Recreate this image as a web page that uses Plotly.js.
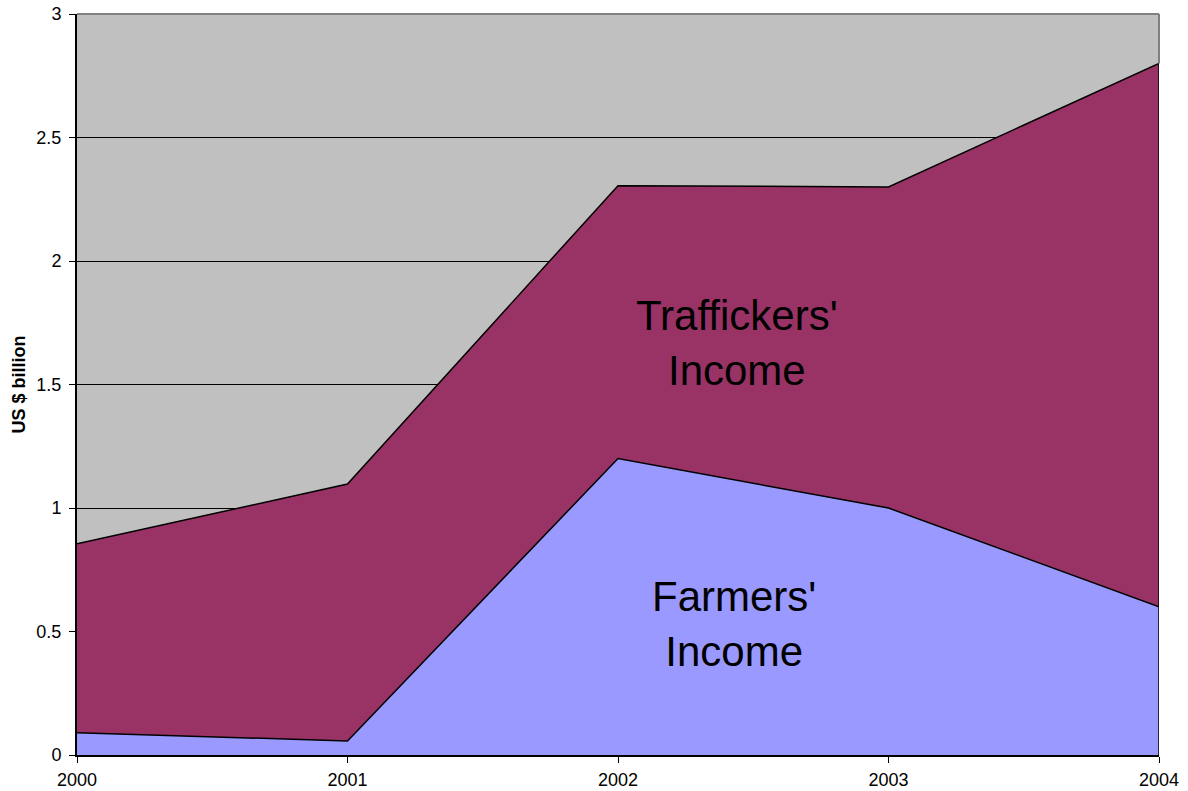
<!DOCTYPE html>
<html>
<head>
<meta charset="utf-8">
<script src="https://cdn.plot.ly/plotly-3.0.1.min.js"></script>
<style>html,body{margin:0;padding:0;background:#fff;}#chart{width:1188px;height:791px;}</style>
</head>
<body>
<div id="chart"></div>
<script>
const years = [2000, 2001, 2002, 2003, 2004];
const farmersIncome = [0.09, 0.057, 1.2, 1.0, 0.6];
const traffickersIncome = [0.765, 1.04, 1.105, 1.3, 2.2];
const yTicks = [0, 0.5, 1, 1.5, 2, 2.5, 3];

const totals = years.map((y, i) => farmersIncome[i] + traffickersIncome[i]);
const last = years.length - 1;

const traces = [
  {
    x: years, y: farmersIncome, type: 'scatter', mode: 'lines',
    stackgroup: 'one', name: "Farmers' Income",
    line: {color: '#000000', width: 1.5}, fillcolor: '#9999FF',
    hoverinfo: 'x+y'
  },
  {
    x: years, y: traffickersIncome, type: 'scatter', mode: 'lines',
    stackgroup: 'one', name: "Traffickers' Income",
    line: {color: '#000000', width: 1.5}, fillcolor: '#993366',
    hoverinfo: 'x+y'
  },
  {
    x: [years[last], years[last]], y: [0, totals[last]], type: 'scatter', mode: 'lines',
    line: {color: '#000000', width: 1.5}, hoverinfo: 'skip', showlegend: false
  }
];

const layout = {
  width: 1188, height: 791,
  margin: {l: 77, r: 29, t: 14, b: 36},
  paper_bgcolor: '#ffffff',
  plot_bgcolor: '#C0C0C0',
  showlegend: false,
  font: {family: 'Arial, Liberation Sans, sans-serif', size: 18, color: '#000'},
  xaxis: {
    range: [years[0], years[last]],
    tickvals: years, ticktext: years.map(String),
    showgrid: false, zeroline: false,
    showline: true, linecolor: '#000', linewidth: 2,
    ticks: 'outside', ticklen: 6, tickcolor: '#000', tickwidth: 1,
    ticklabelstandoff: 1,
    tickfont: {size: 18, color: '#000'}
  },
  yaxis: {
    range: [0, 3],
    tickvals: yTicks, ticktext: yTicks.map(String),
    showgrid: true, gridcolor: '#000', gridwidth: 1,
    zeroline: false,
    showline: true, linecolor: '#000', linewidth: 2,
    ticks: 'outside', ticklen: 6, tickcolor: '#000', tickwidth: 1,
    ticklabelstandoff: 4,
    tickfont: {size: 18, color: '#000'},
    title: {text: 'US $ billion', font: {size: 18, color: '#000', weight: 'bold'}, standoff: 6}
  },
  shapes: [
    {type: 'line', xref: 'paper', yref: 'paper', x0: 0, x1: 1, y0: 1, y1: 1,
     line: {color: '#808080', width: 2}, layer: 'above'},
    {type: 'line', xref: 'paper', yref: 'y', x0: 1, x1: 1, y0: totals[last], y1: 3,
     line: {color: '#808080', width: 2}, layer: 'above'}
  ],
  annotations: [
    {x: 2002.44, y: 1.67, xref: 'x', yref: 'y', text: "Traffickers'<br>Income",
     showarrow: false, font: {size: 42, color: '#000'}, align: 'center'},
    {x: 2002.43, y: 0.53, xref: 'x', yref: 'y', text: "Farmers'<br>Income",
     showarrow: false, font: {size: 42, color: '#000'}, align: 'center'}
  ]
};

Plotly.newPlot('chart', traces, layout, {displayModeBar: false, staticPlot: true});
</script>
</body>
</html>
